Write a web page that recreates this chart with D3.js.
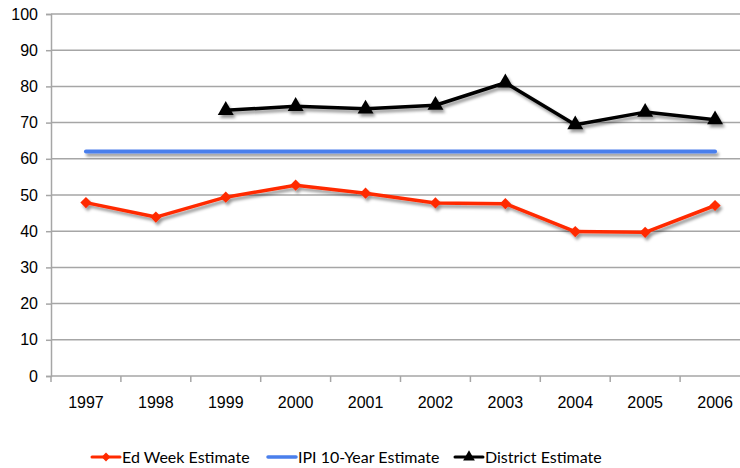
<!DOCTYPE html>
<html>
<head>
<meta charset="utf-8">
<script src="https://cdn.jsdelivr.net/npm/d3@7"></script>
<style>
  html, body { margin: 0; padding: 0; background: #fff; }
  svg { display: block; font-family: Lato, "Open Sans", sans-serif; }
</style>
</head>
<body>
<svg id="chart" width="740" height="468"></svg>
<script>
// Graduation-rate estimates by year
const years = ["1997", "1998", "1999", "2000", "2001", "2002", "2003", "2004", "2005", "2006"];
const edWeek = [47.9, 43.9, 49.4, 52.7, 50.5, 47.8, 47.6, 39.9, 39.7, 47.1];
const ipi = [62, 62, 62, 62, 62, 62, 62, 62, 62, 62];
const district = [null, null, 73.4, 74.5, 73.8, 74.8, 81.0, 69.4, 72.9, 70.8];
const yTicks = [0, 10, 20, 30, 40, 50, 60, 70, 80, 90, 100];
const seriesNames = ["Ed Week Estimate", "IPI 10-Year Estimate", "District Estimate"];

const svg = d3.select("#chart");
const plotLeft = 51, plotRight = 750, plotTop = 14, plotBottom = 376;

const x = d3.scaleBand().domain(years).range([plotLeft, plotRight]);
const y = d3.scaleLinear().domain([0, 100]).range([plotBottom, plotTop]);
const cx = d => x(d) + x.bandwidth() / 2;

// drop shadow for series lines and markers (user-space region so flat lines keep it)
const defs = svg.append("defs");
const f = defs.append("filter").attr("id", "shadow")
  .attr("filterUnits", "userSpaceOnUse")
  .attr("x", 0).attr("y", 0).attr("width", 740).attr("height", 468);
f.append("feDropShadow").attr("dx", 2).attr("dy", 3).attr("stdDeviation", 1.6)
  .attr("flood-color", "#000").attr("flood-opacity", 0.4);

// horizontal gridlines
svg.append("g").selectAll("line").data(yTicks.filter(t => t > 0)).join("line")
  .attr("x1", plotLeft).attr("x2", 740)
  .attr("y1", d => y(d)).attr("y2", d => y(d))
  .attr("stroke", "#a6a6a6").attr("stroke-width", 1.5);

// y axis
const yAxis = svg.append("g").attr("transform", `translate(${plotLeft},0)`)
  .call(d3.axisLeft(y).tickValues(yTicks).tickSize(5).tickPadding(8));
yAxis.select(".domain").attr("stroke", "#a6a6a6").attr("stroke-width", 1.5);
yAxis.selectAll(".tick line").attr("stroke", "#a6a6a6").attr("stroke-width", 1.5);
yAxis.selectAll(".tick text").attr("font-size", 16).attr("fill", "#000");

// x axis
const xAxis = svg.append("g").attr("transform", `translate(0,${plotBottom})`)
  .call(d3.axisBottom(x).tickSize(0).tickPadding(21));
xAxis.select(".domain").remove();
xAxis.append("line").attr("x1", plotLeft).attr("x2", 740)
  .attr("stroke", "#a6a6a6").attr("stroke-width", 1.5);
xAxis.selectAll(".tick text").attr("font-size", 16).attr("fill", "#000");
xAxis.append("g").selectAll("line").data(years).join("line")
  .attr("x1", d => x(d)).attr("x2", d => x(d))
  .attr("y1", 0).attr("y2", 6)
  .attr("stroke", "#a6a6a6").attr("stroke-width", 1.5);

const line = d3.line()
  .defined(d => d.v !== null)
  .x(d => cx(d.year)).y(d => y(d.v));
const toPts = arr => years.map((yr, i) => ({ year: yr, v: arr[i] }));

// IPI flat estimate
svg.append("path").datum(toPts(ipi))
  .attr("d", line).attr("fill", "none")
  .attr("stroke", "#4a7fec").attr("stroke-width", 4).attr("stroke-linecap", "round")
  .attr("filter", "url(#shadow)");

// Ed Week line with diamonds
const gEd = svg.append("g").attr("filter", "url(#shadow)");
gEd.append("path").datum(toPts(edWeek))
  .attr("d", line).attr("fill", "none")
  .attr("stroke", "#ff2a00").attr("stroke-width", 3.5).attr("stroke-linejoin", "round");
gEd.selectAll("path.m").data(toPts(edWeek)).join("path").attr("class", "m")
  .attr("d", d3.symbol(d3.symbolDiamond2, 80))
  .attr("transform", d => `translate(${cx(d.year)},${y(d.v)})`)
  .attr("fill", "#ff2a00");

// District line with triangles
const gDist = svg.append("g").attr("filter", "url(#shadow)");
gDist.append("path").datum(toPts(district))
  .attr("d", line).attr("fill", "none")
  .attr("stroke", "#000").attr("stroke-width", 3.5).attr("stroke-linejoin", "round");
gDist.selectAll("path.m").data(toPts(district).filter(d => d.v !== null)).join("path").attr("class", "m")
  .attr("d", d3.symbol(d3.symbolTriangle, 110))
  .attr("transform", d => `translate(${cx(d.year)},${y(d.v)})`)
  .attr("fill", "#000");

// legend
const legendX = [92, 268, 455];
const ly = 457;
const leg = svg.append("g");
seriesNames.forEach((name, i) => {
  const g = leg.append("g").attr("transform", `translate(${legendX[i]},${ly})`);
  const col = ["#ff2a00", "#4a7fec", "#000"][i];
  g.append("line").attr("x1", 0).attr("x2", 28).attr("y1", 0).attr("y2", 0)
    .attr("stroke", col).attr("stroke-width", i === 1 ? 3.5 : 3).attr("stroke-linecap", "round");
  if (i === 0) {
    g.append("path").attr("d", d3.symbol(d3.symbolDiamond2, 50))
      .attr("transform", "translate(14,0)").attr("fill", col);
  } else if (i === 2) {
    g.append("path").attr("d", d3.symbol(d3.symbolTriangle, 60))
      .attr("transform", "translate(14,0)").attr("fill", col);
  }
  g.append("text").attr("x", 30).attr("y", 0).attr("dy", "0.35em")
    .attr("font-size", 16).attr("fill", "#000").text(name);
});
</script>
</body>
</html>
